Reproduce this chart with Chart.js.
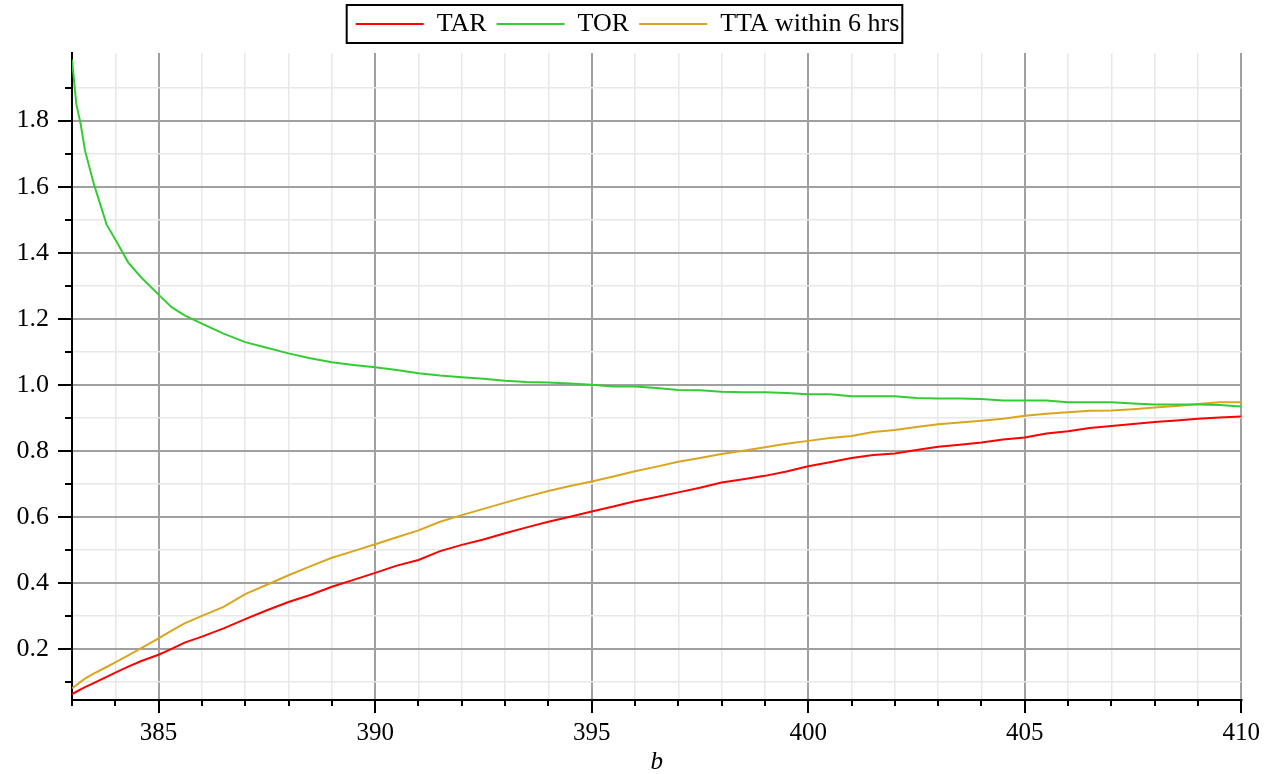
<!DOCTYPE html>
<html>
<head>
<meta charset="utf-8">
<script src="https://cdn.jsdelivr.net/npm/chart.js@4"></script>
<style>
  html, body { margin: 0; padding: 0; background: #fff; }
  #wrap { width: 1265px; height: 774px; }
</style>
</head>
<body>
<div id="wrap"><canvas id="grafic"></canvas></div>
<script>
// valors de b (eix x)
const bValors = [383, 383.1, 383.2, 383.3, 383.5, 383.8, 384.0, 384.3, 384.6, 385.0, 385.3, 385.6, 386.0,
  386.5, 387, 387.5, 388, 388.5, 389, 389.5, 390, 390.5, 391, 391.5, 392, 392.5, 393, 393.5, 394, 394.5,
  395, 395.5, 396, 396.5, 397, 397.5, 398, 398.5, 399, 399.5, 400, 400.5, 401, 401.5, 402, 402.5,
  403, 403.5, 404, 404.5, 405, 405.5, 406, 406.5, 407, 407.5, 408, 408.5, 409, 409.5, 410];

const tar = [0.063, 0.070, 0.077, 0.084, 0.096, 0.115, 0.128, 0.146, 0.163, 0.182, 0.200, 0.219, 0.237,
  0.262, 0.290, 0.317, 0.342, 0.363, 0.388, 0.409, 0.430, 0.452, 0.469, 0.496, 0.515, 0.531, 0.550, 0.568, 0.585, 0.600,
  0.616, 0.631, 0.647, 0.660, 0.674, 0.688, 0.704, 0.714, 0.724, 0.737, 0.753, 0.765, 0.778, 0.787, 0.792, 0.802,
  0.812, 0.818, 0.825, 0.834, 0.840, 0.852, 0.859, 0.869, 0.875, 0.881, 0.887, 0.892, 0.897, 0.901, 0.904];

const tor = [1.985, 1.850, 1.790, 1.710, 1.610, 1.485, 1.440, 1.370, 1.325, 1.273, 1.235, 1.210, 1.185,
  1.155, 1.129, 1.112, 1.095, 1.080, 1.068, 1.060, 1.053, 1.045, 1.035, 1.028, 1.023, 1.018, 1.012, 1.008, 1.007, 1.004,
  1.000, 0.995, 0.995, 0.990, 0.984, 0.983, 0.979, 0.977, 0.977, 0.975, 0.971, 0.971, 0.965, 0.965, 0.965, 0.960,
  0.958, 0.958, 0.957, 0.952, 0.952, 0.952, 0.947, 0.947, 0.947, 0.943, 0.940, 0.940, 0.940, 0.939, 0.934];

const tta = [0.081, 0.090, 0.100, 0.110, 0.125, 0.145, 0.159, 0.180, 0.202, 0.232, 0.255, 0.277, 0.300,
  0.327, 0.366, 0.394, 0.423, 0.450, 0.476, 0.496, 0.517, 0.538, 0.559, 0.585, 0.605, 0.624, 0.643, 0.661, 0.678, 0.693,
  0.707, 0.722, 0.738, 0.752, 0.767, 0.778, 0.790, 0.800, 0.811, 0.821, 0.830, 0.839, 0.845, 0.857, 0.863, 0.872,
  0.880, 0.886, 0.891, 0.897, 0.906, 0.912, 0.917, 0.921, 0.922, 0.926, 0.931, 0.936, 0.942, 0.947, 0.947];

const xTicks = [];
for (let v = 383; v <= 410; v++) xTicks.push(v);
const yTicks = [0.1, 0.2, 0.3, 0.4, 0.5, 0.6, 0.7, 0.8, 0.9, 1.0, 1.1, 1.2, 1.3, 1.4, 1.5, 1.6, 1.7, 1.8, 1.9];

const font = 'Liberation Serif';
const esMajorX = v => v % 5 === 0;
const esMajorY = v => Math.abs(v / 0.2 - Math.round(v / 0.2)) < 1e-6;

function punts(valors) {
    return bValors.map((b, i) => ({ x: b, y: valors[i] }));
}

// vora del llegenda i marques curtes dels ticks secundaris
const extres = {
    id: 'extres',
    afterInit(chart) {
        // una mica més d'espai sota el llegenda
        const lg = chart.legend;
        if (lg && !lg._ajustat) {
            const fitOrig = lg.fit;
            lg.fit = function () {
                fitOrig.call(this);
                this.height += 6;
            };
            lg._ajustat = true;
        }
    },
    afterDraw(chart) {
        const ctx = chart.ctx;
        const area = chart.chartArea;
        const sx = chart.scales.x, sy = chart.scales.y;
        ctx.save();
        ctx.strokeStyle = '#000';
        ctx.lineWidth = 2;
        ctx.beginPath();
        yTicks.forEach(v => {
            if (esMajorY(v)) return;
            const p = Math.round(sy.getPixelForValue(v));
            ctx.moveTo(area.left - 7, p);
            ctx.lineTo(area.left, p);
        });
        xTicks.forEach(v => {
            if (esMajorX(v)) return;
            const p = Math.round(sx.getPixelForValue(v));
            ctx.moveTo(p, area.bottom);
            ctx.lineTo(p, area.bottom + 6);
        });
        ctx.stroke();

        const caixes = chart.legend.legendHitBoxes;
        if (caixes && caixes.length) {
            const l = Math.min(...caixes.map(c => c.left));
            const r = Math.max(...caixes.map(c => c.left + c.width));
            const t = Math.min(...caixes.map(c => c.top));
            const b = Math.max(...caixes.map(c => c.top + c.height));
            ctx.strokeRect(l - 9, t - 6, r - l + 12, b - t + 12);
        }
        ctx.restore();
    }
};

const ctx = document.getElementById('grafic').getContext('2d');
new Chart(ctx, {
    type: 'line',
    data: {
        datasets: [
            { label: 'TAR', data: punts(tar), borderColor: '#ff0000', backgroundColor: '#ff0000' },
            { label: 'TOR', data: punts(tor), borderColor: '#33cc33', backgroundColor: '#33cc33' },
            { label: 'TTA within 6 hrs', data: punts(tta), borderColor: '#daa520', backgroundColor: '#daa520' }
        ]
    },
    options: {
        responsive: true,
        maintainAspectRatio: false,
        animation: false,
        layout: { padding: { top: 1, right: 22, left: 12, bottom: 0 } },
        elements: {
            point: { radius: 0 },
            line: { borderWidth: 2, tension: 0 }
        },
        plugins: {
            tooltip: { enabled: false },
            legend: {
                position: 'top',
                labels: {
                    color: '#000',
                    font: { family: font, size: 26 },
                    boxWidth: 68,
                    boxHeight: 2,
                    padding: 10,
                    generateLabels(chart) {
                        return Chart.defaults.plugins.legend.labels.generateLabels(chart).map(it => {
                            it.lineWidth = 0;
                            return it;
                        });
                    }
                }
            }
        },
        scales: {
            x: {
                type: 'linear',
                min: 383,
                max: 410,
                afterBuildTicks: s => { s.ticks = xTicks.map(v => ({ value: v })); },
                afterFit: s => { s.height = 74; },
                border: { color: '#000', width: 2 },
                grid: {
                    color: c => esMajorX(c.tick.value) ? '#a0a0a0' : '#e8e8e8',
                    lineWidth: c => esMajorX(c.tick.value) ? 2 : 1.5,
                    tickColor: c => esMajorX(c.tick.value) ? '#000' : 'rgba(0,0,0,0)',
                    tickLength: 13,
                    tickWidth: 2
                },
                ticks: {
                    color: '#000',
                    font: { family: font, size: 25 },
                    padding: 5,
                    maxRotation: 0,
                    autoSkip: false,
                    callback: v => esMajorX(v) ? String(v) : ''
                },
                title: {
                    display: true,
                    text: 'b',
                    color: '#000',
                    font: { family: font, size: 25, style: 'italic' },
                    padding: { top: 0, bottom: -3 }
                }
            },
            y: {
                type: 'linear',
                min: 0.045,
                max: 2.005,
                afterBuildTicks: s => { s.ticks = yTicks.map(v => ({ value: v })); },
                afterFit: s => { s.width = 60; },
                border: { color: '#000', width: 2 },
                grid: {
                    color: c => esMajorY(c.tick.value) ? '#a0a0a0' : '#e8e8e8',
                    lineWidth: c => esMajorY(c.tick.value) ? 2 : 1.5,
                    tickColor: c => esMajorY(c.tick.value) ? '#000' : 'rgba(0,0,0,0)',
                    tickLength: 14,
                    tickWidth: 2
                },
                ticks: {
                    color: '#000',
                    font: { family: font, size: 26 },
                    padding: 9,
                    autoSkip: false,
                    callback: v => esMajorY(v) ? v.toFixed(1) : ''
                }
            }
        }
    },
    plugins: [extres]
});
</script>
</body>
</html>
